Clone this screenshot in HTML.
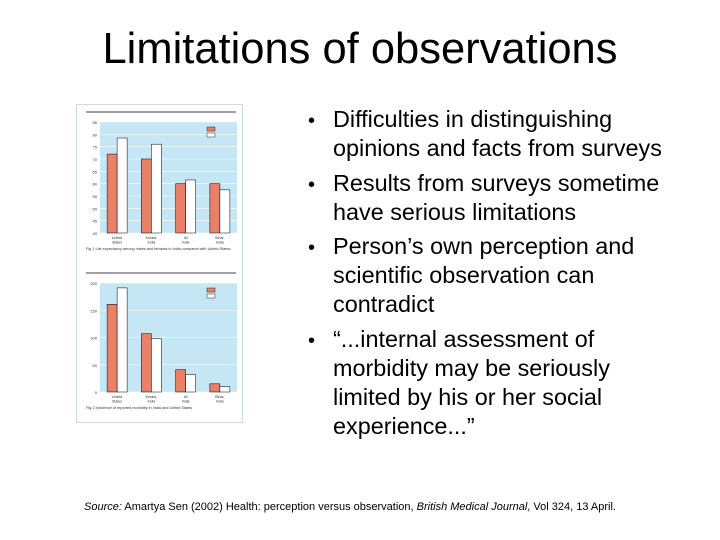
<!DOCTYPE html>
<html><head><meta charset="utf-8"><style>
body{margin:0;width:720px;height:540px;background:#fff;position:relative;overflow:hidden;font-family:"Liberation Sans",sans-serif;}
#title{position:absolute;left:0;width:720px;top:25px;text-align:center;font-size:43.5px;color:#000;}
#bullets{position:absolute;left:308px;top:105px;width:372px;font-size:23.4px;line-height:29px;color:#000;margin:0;padding:0;list-style:none;}
#bullets li{padding-left:25px;text-indent:-25px;margin-bottom:5.5px;}
#bullets li:before{content:"•";display:inline-block;width:25px;text-indent:0;font-size:20px;line-height:20px;}
#source{position:absolute;left:84px;top:501px;font-size:11px;color:#000;white-space:nowrap;}
#fig{position:absolute;left:76px;top:104px;}
</style></head><body>
<div id="title">Limitations of observations</div>
<ul id="bullets">
<li>Difficulties in distinguishing opinions and facts from surveys</li>
<li>Results from surveys sometime have serious limitations</li>
<li>Person’s own perception and scientific observation can contradict</li>
<li>“...internal assessment of morbidity may be seriously limited by his or her social experience...”</li>
</ul>
<div id="source"><i>Source:</i> Amartya Sen (2002) Health: perception versus observation, <i>British Medical Journal</i>, Vol 324, 13 April.</div>
<svg id="fig" width="168" height="320"></svg>
<script>
const cats=["United States","Kerala, India","All India","Bihar, India"];
const lifeMale=[72,70,60,60];
const lifeFemale=[78.5,76,61.5,57.5];
const lifeTicks=[40,45,50,55,60,65,70,75,80,85];
const morbMale=[161,107,41,15];
const morbFemale=[191,98,32,10];
const morbTicks=[0,50,100,150,200];
const NS="http://www.w3.org/2000/svg";
const svg=document.getElementById('fig');
function el(t,a){const e=document.createElementNS(NS,t);for(const k in a)e.setAttribute(k,a[k]);svg.appendChild(e);return e;}
let r=el('rect',{x:0.5,y:0.5,width:166,height:318,fill:'#fff',stroke:'#c8dce8'});

function chart(ox,oy,w,h,min,max,ticks,m,f,name,cap){
  const y=v=>oy+h-(v-min)/(max-min)*h;
  let l=el('line',{x1:10,x2:160,y1:oy-10,y2:oy-10,stroke:'#000','stroke-width':0.8});
  
  let bg=el('rect',{x:ox,y:oy,width:w,height:h,fill:'#c5e6f5'});
  
  ticks.forEach(t=>{
    let g=el('line',{x1:ox,x2:ox+w,y1:y(t),y2:y(t),stroke:'#fff','stroke-width':0.6});
    
    let tx=el('text',{x:ox-3,y:y(t)+2,'font-size':4,'text-anchor':'end',fill:'#333'});tx.textContent=t;
    
  });
  const gw=w/cats.length;
  cats.forEach((c,i)=>{
    const x0=ox+gw*i+gw/2-10;
    let b1=el('rect',{x:x0,y:y(m[i]),width:10,height:y(min)-y(m[i]),fill:'#e8806a',stroke:'#000','stroke-width':0.5});
    
    let b2=el('rect',{x:x0+10,y:y(f[i]),width:10,height:y(min)-y(f[i]),fill:'#fff',stroke:'#000','stroke-width':0.5});
    
    const p=c.split(' ');
    let t=el('text',{x:x0+10,y:oy+h+6,'font-size':3.6,'text-anchor':'middle',fill:'#333'});t.textContent=p[0];
    
    let t2=el('text',{x:x0+10,y:oy+h+10.5,'font-size':3.6,'text-anchor':'middle',fill:'#333'});t2.textContent=p.slice(1).join(' ');
    
  });
  let lm=el('rect',{x:ox+w-30,y:oy+5,width:8,height:4,fill:'#e8806a',stroke:'#000','stroke-width':0.4});
  
  let lf=el('rect',{x:ox+w-30,y:oy+11,width:8,height:4,fill:'#fff',stroke:'#000','stroke-width':0.4});
  
  let ct=el('text',{x:10,y:oy+h+17,'font-size':3.8,fill:'#333'});ct.textContent=cap;
  
}
chart(24,18,137,111,40,85,lifeTicks,lifeMale,lifeFemale,'life-chart','Fig 1 Life expectancy among males and females in India compared with United States');
chart(24,179,137,109,0,200,morbTicks,morbMale,morbFemale,'morbidity-chart','Fig 2 Incidence of reported morbidity in India and United States');
</script>
</body></html>
